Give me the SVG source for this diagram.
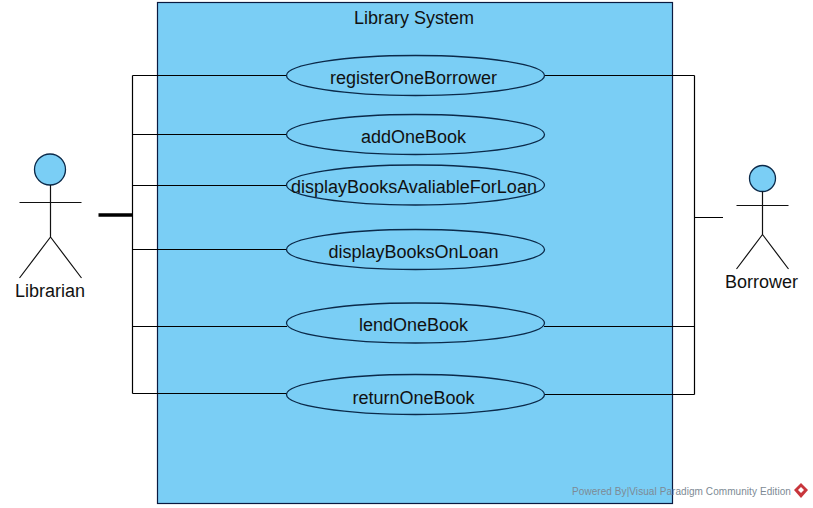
<svg xmlns="http://www.w3.org/2000/svg" width="813" height="508" viewBox="0 0 813 508">
<style>
text{font-family:"Liberation Sans",Arial,sans-serif;font-size:18px;fill:#111;text-anchor:middle}
.u{fill:#7acef5;stroke:#0b2a4a;stroke-width:1.3}
.l{fill:none;stroke:#000;stroke-width:1.2}
.a{fill:none;stroke:#111;stroke-width:1.2}
.h{fill:#7acef5;stroke:#0b2a4a;stroke-width:1.3}
</style>
<rect width="813" height="508" fill="#fff"/>
<g id="system"><rect x="157.500" y="2.500" width="515" height="501" fill="#7acef5" stroke="#0a1a40" stroke-width="1.2"/><text x="414" y="23.500">Library System</text></g>
<g id="connectors">
<path class="l" d="M132.500 75.500V393.500M132.500 75.500H287M132.500 134.500H287M132.500 185.500H287M132.500 249.500H287M132.500 326.500H287M132.500 393.500H287"/>
<path d="M98.500 215H132.500" fill="none" stroke="#000" stroke-width="3.600"/>
<path class="l" d="M694.500 75.500V394.500M544 75.500H694.500M544 326.500H694.500M544 394.500H694.500M694.500 217.500H723"/>
</g>
<g id="uc1"><ellipse class="u" cx="415.500" cy="75.500" rx="129" ry="20"/><text x="413.500" y="84">registerOneBorrower</text></g>
<g id="uc2"><ellipse class="u" cx="415.500" cy="134.500" rx="129" ry="20"/><text x="413.500" y="143">addOneBook</text></g>
<g id="uc3"><ellipse class="u" cx="415.500" cy="185" rx="129" ry="20"/><text x="414" y="193">displayBooksAvaliableForLoan</text></g>
<g id="uc4"><ellipse class="u" cx="415.500" cy="249.500" rx="129" ry="20"/><text x="413.500" y="258">displayBooksOnLoan</text></g>
<g id="uc5"><ellipse class="u" cx="415.500" cy="323" rx="129" ry="20"/><text x="413.500" y="331">lendOneBook</text></g>
<g id="uc6"><ellipse class="u" cx="415.500" cy="394.500" rx="129" ry="20"/><text x="413.500" y="404">returnOneBook</text></g>
<g id="librarian"><circle class="h" cx="50" cy="169.500" r="15.500"/><path class="a" d="M50.500 185V237M19.500 202.500H81.500M50.500 237L19.500 278M50.500 237L81.500 278"/><text x="50" y="297">Librarian</text></g>
<g id="borrower"><circle class="h" cx="762.500" cy="178.500" r="13"/><path class="a" d="M762.500 191.500V234.500M736.500 205.500H788.500M762.500 234.500L736.500 269M762.500 234.500L788.500 269"/><text x="761.500" y="288">Borrower</text></g>
<g id="watermark"><text x="681.500" y="495" style="font-size:10px;fill:#7d8a94;letter-spacing:.07px">Powered By|Visual Paradigm Community Edition</text><path d="M801 483L808 490L801 498L794 490Z" fill="#c8363c"/><path d="M801 487L804 490L801 493L798 490Z" fill="#fff"/></g>
</svg>
